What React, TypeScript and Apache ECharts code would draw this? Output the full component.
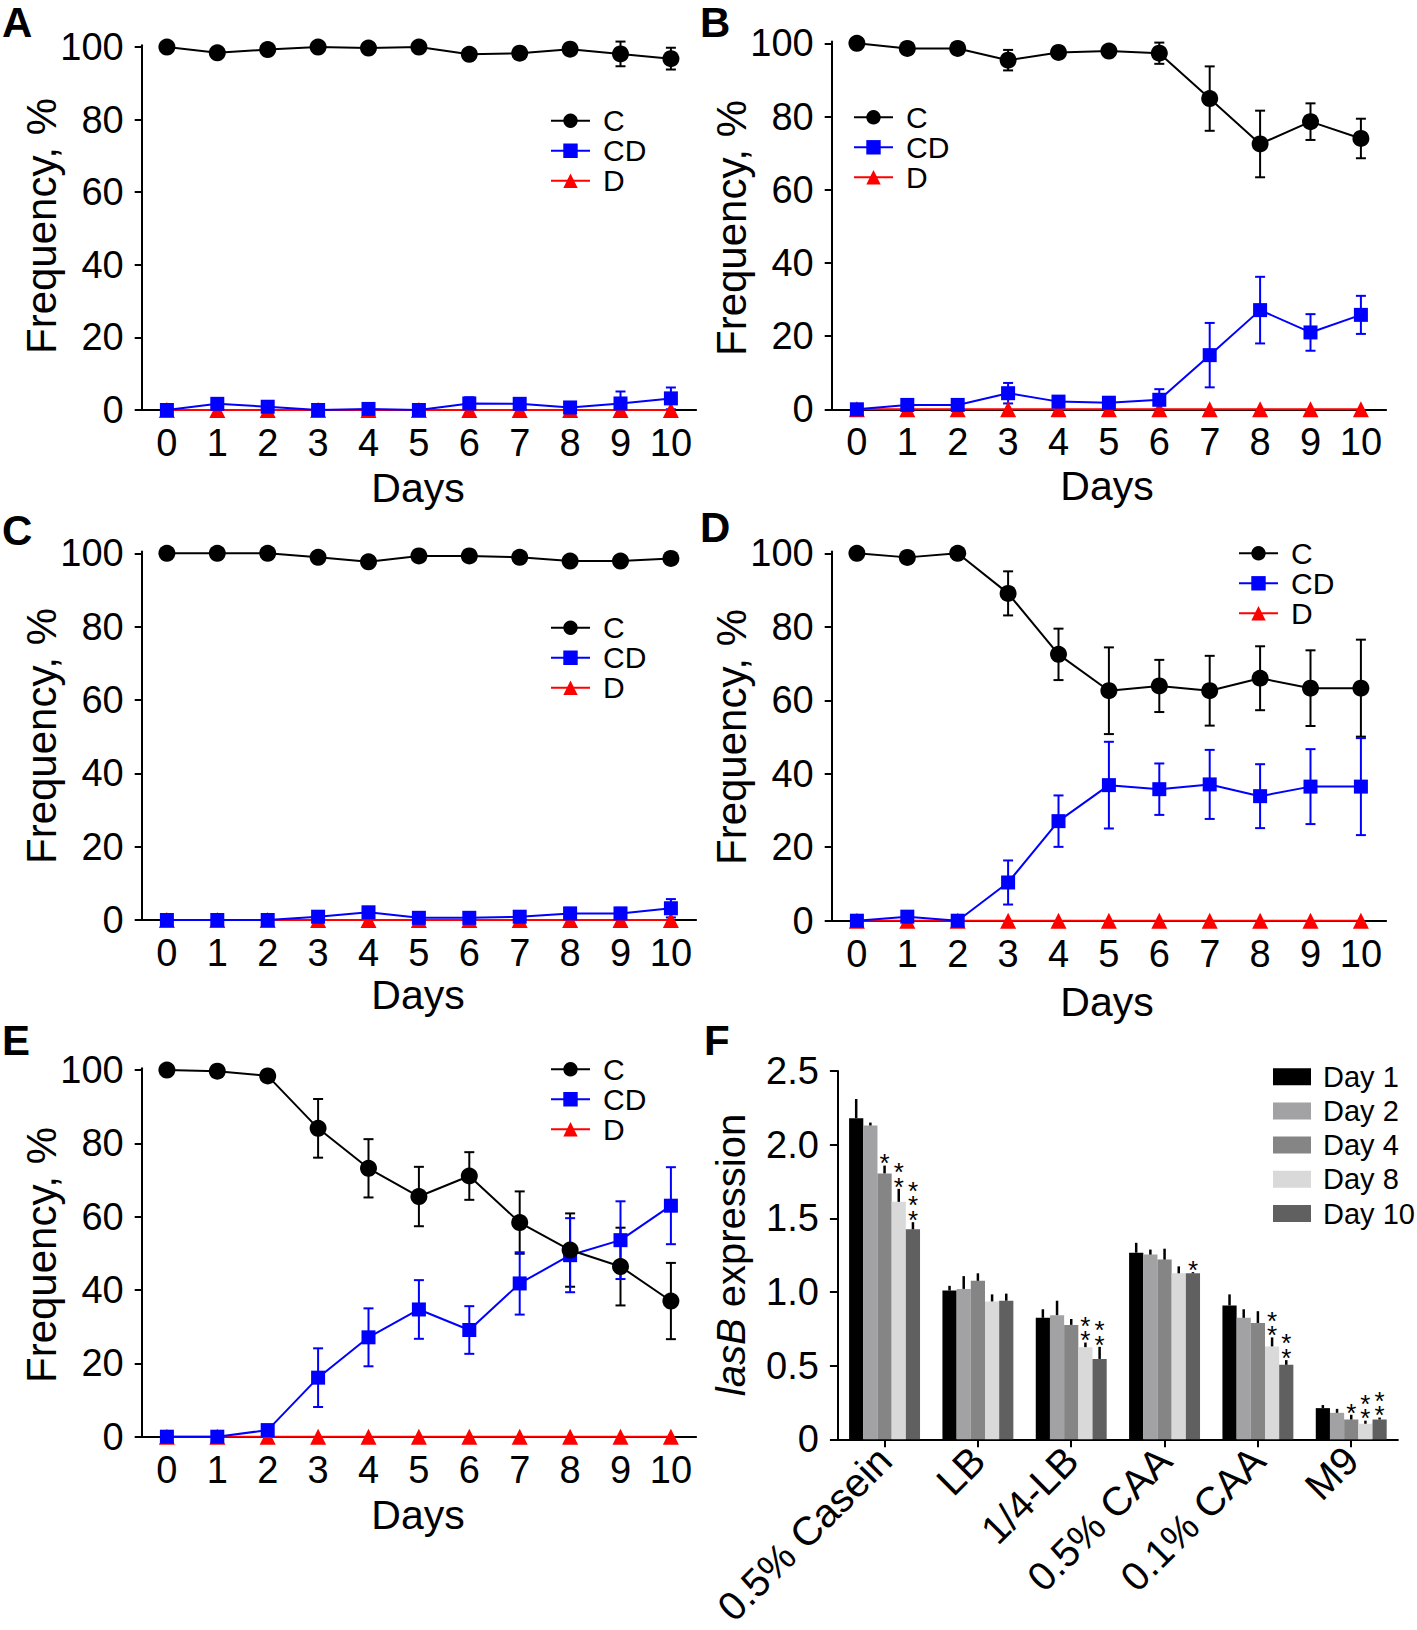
import React, { useEffect, useRef } from "react";
import * as echarts from "echarts";

const FONT = '"Liberation Sans", Arial, Helvetica, sans-serif';

// ---------------- Data ----------------
const days = [0, 1, 2, 3, 4, 5, 6, 7, 8, 9, 10];
const freqTicks = [0, 20, 40, 60, 80, 100];
const seriesNames = ["C", "CD", "D"];

// Panel A
const A_C = [100, 98.4, 99.3, 100, 99.7, 100, 98.0, 98.3, 99.4, 98.1, 96.8];
const A_C_err = [0.5, 0.8, 0.7, 0.5, 0.6, 0.5, 1.0, 1.0, 0.8, 3.4, 3.0];
const A_CD = [0, 1.7, 0.9, 0, 0.3, 0, 1.8, 1.7, 0.7, 1.8, 3.2];
const A_CD_err = [0, 0.8, 0.7, 0, 0.3, 0, 1.7, 1.0, 0.7, 3.3, 3.0];
const A_D = [0, 0, 0, 0, 0, 0, 0, 0, 0, 0, 0];

// Panel B
const B_C = [100, 98.6, 98.6, 95.4, 97.5, 97.9, 97.3, 84.9, 72.5, 78.6, 74.0];
const B_C_err = [0, 0.8, 0.8, 2.8, 1.0, 1.0, 2.9, 8.8, 9.1, 5.0, 5.4];
const B_CD = [0, 1.2, 1.2, 4.4, 2.1, 1.8, 2.6, 14.8, 27.1, 21.0, 25.8];
const B_CD_err = [0, 0.8, 0.8, 2.8, 1.0, 1.0, 2.9, 8.8, 9.1, 5.0, 5.2];
const B_D = [0, 0, 0, 0, 0, 0, 0, 0, 0, 0, 0];

// Panel C
const C_C = [100, 100, 100, 98.9, 97.7, 99.3, 99.3, 98.9, 97.9, 97.9, 98.6];
const C_C_err = [0, 0, 0, 0.8, 1.0, 0.5, 0.5, 0.6, 1.0, 1.0, 0.8];
const C_CD = [0, 0, 0, 0.9, 2.1, 0.6, 0.6, 0.9, 1.8, 1.8, 3.2];
const C_CD_err = [0, 0, 0, 0.8, 1.0, 0.5, 0.5, 0.6, 1.5, 1.5, 2.5];
const C_D = [0, 0, 0, 0, 0, 0, 0, 0, 0, 0, 0];

// Panel D
const D_C = [100, 98.9, 100, 89.1, 72.5, 62.6, 63.9, 62.6, 66.0, 63.3, 63.3];
const D_C_err = [0, 0.8, 0, 6.0, 7.0, 11.8, 7.1, 9.5, 8.7, 10.3, 13.2];
const D_CD = [0, 1.1, 0, 10.4, 27.1, 36.9, 35.8, 37.1, 33.9, 36.5, 36.5];
const D_CD_err = [0, 0.8, 0, 6.0, 7.0, 11.8, 7.0, 9.4, 8.7, 10.2, 13.2];
const D_D = [0, 0, 0, 0, 0, 0, 0, 0, 0, 0, 0];

// Panel E
const E_C = [100, 99.7, 98.4, 84.1, 73.2, 65.5, 71.1, 58.4, 50.9, 46.4, 37.0];
const E_C_err = [0, 0.3, 0.8, 8.0, 7.95, 8.1, 6.5, 8.5, 10.0, 10.6, 10.4];
const E_CD = [0, 0, 1.8, 16.1, 27.1, 34.7, 29.1, 41.8, 49.5, 53.6, 63.0];
const E_CD_err = [0, 0, 0.8, 8.0, 7.9, 8.0, 6.5, 8.5, 10.1, 10.6, 10.5];
const E_D = [0, 0, 0, 0, 0, 0, 0, 0, 0, 0, 0];

// Panel F
const fCategories = ["0.5% Casein", "LB", "1/4-LB", "0.5% CAA", "0.1% CAA", "M9"];
const fDayNames = ["Day 1", "Day 2", "Day 4", "Day 8", "Day 10"];
const fDay1 = [2.18, 1.01, 0.825, 1.267, 0.909, 0.212];
const fDay2 = [2.13, 1.021, 0.843, 1.254, 0.825, 0.18];
const fDay4 = [1.805, 1.076, 0.777, 1.22, 0.79, 0.135];
const fDay8 = [1.612, 0.936, 0.626, 1.127, 0.631, 0.106];
const fDay10 = [1.426, 0.941, 0.546, 1.127, 0.506, 0.135];
const fErr1 = [0.13, 0.032, 0.058, 0.067, 0.075, 0.021];
const fErr2 = [0.02, 0.087, 0.098, 0.034, 0.058, 0.027];
const fErr4 = [0.053, 0.051, 0.04, 0.074, 0.08, 0.032];
const fErr8 = [0.088, 0.048, 0.031, 0.047, 0.061, 0.021];
const fErr10 = [0.048, 0.048, 0.082, 0.008, 0.032, 0.013];
const fSig1 = ["", "", "", "", "", ""];
const fSig2 = ["", "", "", "", "", ""];
const fSig4 = ["*", "", "", "", "", "*"];
const fSig8 = ["**", "", "**", "", "**", "**"];
const fSig10 = ["***", "", "**", "*", "**", "**"];

// ---------------- Styles / layout ----------------
const BLACK = "#000000";
const BLUE = "#0000ff";
const RED = "#ff0000";
const barColors = ["#000000", "#a2a2a5", "#858585", "#d9d9d9", "#606060"];

type Panel = {
  letter: string;
  C: number[];
  Cerr: number[];
  CD: number[];
  CDerr: number[];
  D: number[];
  grid: { left: number; top: number; width: number; height: number };
  legend: { left: number; top: number };
  letterPos: [number, number];
  daysPos: [number, number];
  freqPos: [number, number];
};

const panels: Panel[] = [
  {
    letter: "A", C: A_C, Cerr: A_C_err, CD: A_CD, CDerr: A_CD_err, D: A_D,
    grid: { left: 141.7, top: 45.2, width: 554.4, height: 364.8 },
    legend: { left: 550, top: 105.7 },
    letterPos: [2, 22], daysPos: [418, 487.5], freqPos: [41, 226],
  },
  {
    letter: "B", C: B_C, Cerr: B_C_err, CD: B_CD, CDerr: B_CD_err, D: B_D,
    grid: { left: 831.7, top: 41.5, width: 554.4, height: 367.8 },
    legend: { left: 853, top: 102.3 },
    letterPos: [700, 22], daysPos: [1107, 486], freqPos: [731.5, 228],
  },
  {
    letter: "C", C: C_C, Cerr: C_C_err, CD: C_CD, CDerr: C_CD_err, D: C_D,
    grid: { left: 141.7, top: 551.5, width: 554.4, height: 368.5 },
    legend: { left: 550, top: 612.7 },
    letterPos: [2, 530], daysPos: [418, 994.5], freqPos: [41, 736],
  },
  {
    letter: "D", C: D_C, Cerr: D_C_err, CD: D_CD, CDerr: D_CD_err, D: D_D,
    grid: { left: 831.7, top: 551.5, width: 554.4, height: 369.2 },
    legend: { left: 1238, top: 538.3 },
    letterPos: [700, 527], daysPos: [1107, 1001.5], freqPos: [731.5, 737],
  },
  {
    letter: "E", C: E_C, Cerr: E_C_err, CD: E_CD, CDerr: E_CD_err, D: E_D,
    grid: { left: 141.7, top: 1068.2, width: 554.4, height: 368.5 },
    legend: { left: 550, top: 1054.3 },
    letterPos: [2, 1040], daysPos: [418, 1514.5], freqPos: [41, 1255],
  },
];

const fGrid = { left: 837.9, top: 1071, width: 560, height: 368.6 };

const makeErrRender = (color: string) => (params: any, api: any) => {
  const x = api.value(0);
  const m = api.value(1);
  const e = api.value(2);
  if (!(e > 0)) return { type: "group", children: [] };
  const hi = api.coord([x, m + e]);
  const lo = api.coord([x, Math.max(0, m - e)]);
  const c = 5;
  const style = { stroke: color, lineWidth: 2 };
  return {
    type: "group",
    children: [
      { type: "line", shape: { x1: hi[0], y1: hi[1], x2: lo[0], y2: lo[1] }, style },
      { type: "line", shape: { x1: hi[0] - c, y1: hi[1], x2: hi[0] + c, y2: hi[1] }, style },
      { type: "line", shape: { x1: lo[0] - c, y1: lo[1], x2: lo[0] + c, y2: lo[1] }, style },
    ],
  };
};

const makeBarErrRender = (k: number, sig: string[]) => (params: any, api: any) => {
  const ci = api.value(0);
  const v = api.value(1);
  const e = api.value(2);
  const band = api.size([1, 0])[0];
  const bw = (band * 0.76) / 5;
  const vp = api.coord([ci, v]);
  const tp = api.coord([ci, v + e]);
  const cx = vp[0] + (k - 2) * bw;
  const children: any[] = [
    { type: "line", shape: { x1: cx, y1: vp[1], x2: cx, y2: tp[1] }, style: { stroke: "#000", lineWidth: 2.5 } },
  ];
  const s = sig[params.dataIndex];
  if (s) {
    children.push({
      type: "text",
      x: cx,
      y: tp[1] + 5,
      style: {
        text: s.split("").join("\n"),
        fontSize: 26,
        lineHeight: 14.5,
        fontFamily: FONT,
        fill: "#000",
        align: "center",
        verticalAlign: "bottom",
      },
    });
  }
  return { type: "group", children };
};

function buildOption(): any {
  const grid: any[] = [];
  const xAxis: any[] = [];
  const yAxis: any[] = [];
  const series: any[] = [];
  const legend: any[] = [];
  const graphic: any[] = [];

  const axisLine = { show: true, onZero: false, lineStyle: { color: BLACK, width: 2 } };
  const labelBase = { color: BLACK, fontFamily: FONT };

  panels.forEach((p, i) => {
    grid.push({ ...p.grid, containLabel: false });
    xAxis.push({
      gridIndex: i,
      type: "value",
      min: -0.5,
      max: 10.5,
      axisLine,
      axisTick: { show: false },
      splitLine: { show: false },
      axisLabel: { ...labelBase, fontSize: 38, margin: 14, customValues: days },
    });
    yAxis.push({
      gridIndex: i,
      type: "value",
      min: 0,
      max: 100.5,
      axisLine,
      axisTick: { show: true, length: 7, lineStyle: { color: BLACK, width: 2 }, customValues: freqTicks },
      splitLine: { show: false },
      axisLabel: { ...labelBase, fontSize: 38, margin: 18, customValues: freqTicks },
    });

    const toPts = (arr: number[]) => days.map((d, k) => [d, arr[k]]);
    const toErr = (arr: number[], err: number[]) => days.map((d, k) => [d, arr[k], err[k]]);

    series.push({
      type: "custom", name: "err" + p.letter + "C", xAxisIndex: i, yAxisIndex: i,
      renderItem: makeErrRender(BLACK), data: toErr(p.C, p.Cerr), encode: { x: 0, y: 1 }, z: 2, silent: true,
    });
    series.push({
      type: "custom", name: "err" + p.letter + "CD", xAxisIndex: i, yAxisIndex: i,
      renderItem: makeErrRender(BLUE), data: toErr(p.CD, p.CDerr), encode: { x: 0, y: 1 }, z: 2, silent: true,
    });
    series.push({
      type: "line", name: "D", xAxisIndex: i, yAxisIndex: i, data: toPts(p.D),
      symbol: "triangle", symbolSize: 16, clip: false,
      itemStyle: { color: RED }, lineStyle: { color: RED, width: 2 }, z: 3,
    });
    series.push({
      type: "line", name: "CD", xAxisIndex: i, yAxisIndex: i, data: toPts(p.CD),
      symbol: "rect", symbolSize: 14, clip: false,
      itemStyle: { color: BLUE }, lineStyle: { color: BLUE, width: 2 }, z: 4,
    });
    series.push({
      type: "line", name: "C", xAxisIndex: i, yAxisIndex: i, data: toPts(p.C),
      symbol: "circle", symbolSize: 17, clip: false,
      itemStyle: { color: BLACK }, lineStyle: { color: BLACK, width: 2 }, z: 5,
    });

    legend.push({
      data: seriesNames,
      orient: "vertical",
      left: p.legend.left,
      top: p.legend.top,
      itemWidth: 39,
      itemHeight: 18,
      itemGap: 0,
      padding: 0,
      selectedMode: false,
      textStyle: { color: BLACK, fontFamily: FONT, fontSize: 30, lineHeight: 30, padding: [0, 0, 0, 8] },
    });

    graphic.push({
      type: "text", x: p.letterPos[0], y: p.letterPos[1],
      style: { text: p.letter, fontSize: 42, lineHeight: 34, fontWeight: "bold", fontFamily: FONT, fill: BLACK, align: "left", verticalAlign: "middle" },
    });
    graphic.push({
      type: "text", x: p.daysPos[0], y: p.daysPos[1],
      style: { text: "Days", fontSize: 41, fontFamily: FONT, fill: BLACK, align: "center", verticalAlign: "middle" },
    });
    graphic.push({
      type: "text", x: p.freqPos[0], y: p.freqPos[1], rotation: Math.PI / 2,
      style: { text: "Frequency, %", fontSize: 42, fontFamily: FONT, fill: BLACK, align: "center", verticalAlign: "middle" },
    });
  });

  // Panel F
  const fi = panels.length;
  grid.push({ ...fGrid, containLabel: false });
  xAxis.push({
    gridIndex: fi,
    type: "category",
    data: fCategories,
    axisLine,
    axisTick: { show: true, alignWithLabel: true, length: 8, lineStyle: { color: BLACK, width: 2 } },
    splitLine: { show: false },
    axisLabel: { ...labelBase, fontSize: 40, margin: 14, rotate: 45, interval: 0 },
  });
  yAxis.push({
    gridIndex: fi,
    type: "value",
    min: 0,
    max: 2.5,
    interval: 0.5,
    axisLine,
    axisTick: { show: true, length: 8, lineStyle: { color: BLACK, width: 2 } },
    splitLine: { show: false },
    axisLabel: {
      ...labelBase,
      fontSize: 38,
      margin: 19,
      formatter: (v: number) => (v === 0 ? "0" : v.toFixed(1)),
    },
  });
  const fVals = [fDay1, fDay2, fDay4, fDay8, fDay10];
  const fErrs = [fErr1, fErr2, fErr4, fErr8, fErr10];
  const fSigs = [fSig1, fSig2, fSig4, fSig8, fSig10];
  fVals.forEach((vals, k) => {
    series.push({
      type: "bar",
      name: fDayNames[k],
      xAxisIndex: fi,
      yAxisIndex: fi,
      data: vals,
      barGap: "0%",
      barCategoryGap: "24%",
      itemStyle: { color: barColors[k] },
      z: 2,
    });
  });
  fVals.forEach((vals, k) => {
    series.push({
      type: "custom",
      name: "fErr" + k,
      xAxisIndex: fi,
      yAxisIndex: fi,
      renderItem: makeBarErrRender(k, fSigs[k]),
      data: vals.map((v, c) => [c, v, fErrs[k][c]]),
      encode: { x: 0, y: 1 },
      z: 3,
      silent: true,
    });
  });
  legend.push({
    data: fDayNames,
    orient: "vertical",
    left: 1273,
    top: 1059.6,
    icon: "rect",
    itemWidth: 38,
    itemHeight: 17,
    itemGap: 0,
    padding: 0,
    selectedMode: false,
    textStyle: { color: BLACK, fontFamily: FONT, fontSize: 29, lineHeight: 34.2, padding: [0, 0, 0, 7] },
  });
  graphic.push({
    type: "text", x: 704, y: 1040,
    style: { text: "F", fontSize: 42, lineHeight: 34, fontWeight: "bold", fontFamily: FONT, fill: BLACK, align: "left", verticalAlign: "middle" },
  });
  graphic.push({
    type: "text", x: 730.5, y: 1255, rotation: Math.PI / 2,
    style: {
      text: "{i|lasB} expression",
      fontSize: 40,
      fontFamily: FONT,
      fill: BLACK,
      align: "center",
      verticalAlign: "middle",
      rich: { i: { fontStyle: "italic", fontSize: 40, fontFamily: FONT, fill: BLACK } },
    },
  });

  return {
    animation: false,
    backgroundColor: "#ffffff",
    textStyle: { fontFamily: FONT },
    grid,
    xAxis,
    yAxis,
    legend,
    series,
    graphic,
  };
}

export default function App() {
  const ref = useRef<HTMLDivElement>(null);
  useEffect(() => {
    if (!ref.current) return;
    const chart = echarts.init(ref.current, undefined, { renderer: "svg" });
    chart.setOption(buildOption());
    return () => chart.dispose();
  }, []);
  return (
    <div
      ref={ref}
      style={{ position: "absolute", left: 0, top: 0, width: 1417, height: 1630, background: "#fff" }}
    />
  );
}
